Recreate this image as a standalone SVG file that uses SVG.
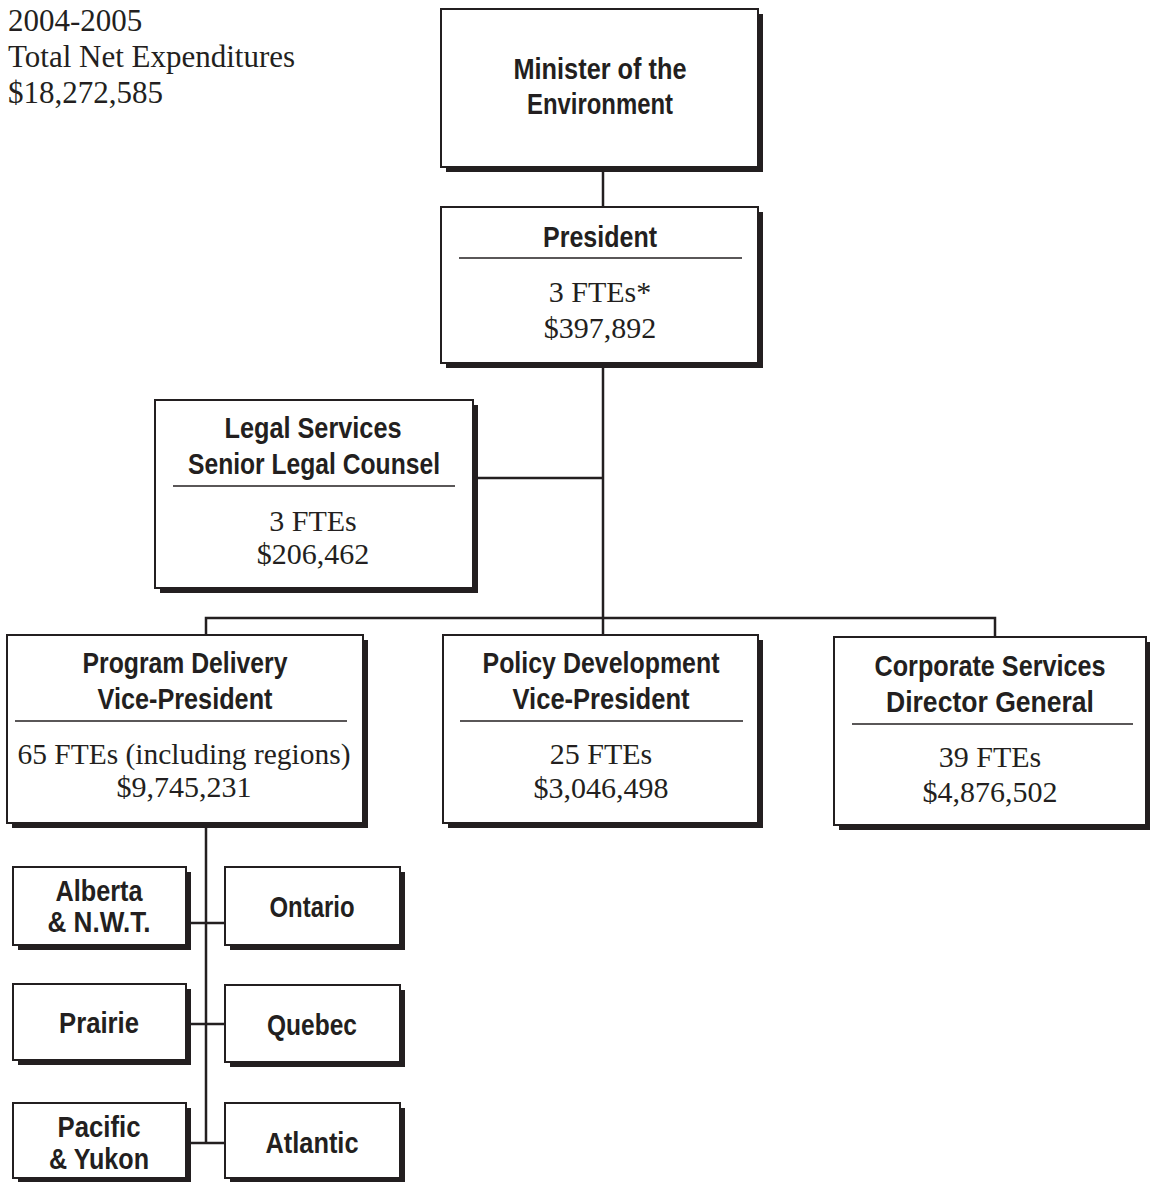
<svg xmlns="http://www.w3.org/2000/svg" width="1150" height="1182" viewBox="0 0 1150 1182">
<style>
.sh{fill:#231f20}
.bx{fill:#ffffff;stroke:#231f20;stroke-width:2}
.dv{stroke:#231f20;stroke-width:1.5}
.cn{stroke:#231f20;stroke-width:2.5;fill:none}
.t{font-family:"Liberation Sans",Arial,sans-serif;font-weight:bold;font-size:30px;fill:#231f20;text-anchor:middle}
.b{font-family:"Liberation Serif","Times New Roman",serif;font-size:30px;fill:#231f20;text-anchor:middle}
.h{font-family:"Liberation Serif","Times New Roman",serif;font-size:31px;fill:#231f20}
</style>
<rect width="1150" height="1182" fill="#ffffff"/>
<g id="header">
<text class="h" x="8" y="31">2004-2005</text>
<text class="h" x="8" y="67">Total Net Expenditures</text>
<text class="h" x="8" y="103">$18,272,585</text>
</g>
<g id="connectors">
<line class="cn" x1="603" y1="167" x2="603" y2="207"/>
<line class="cn" x1="603" y1="363" x2="603" y2="618"/>
<line class="cn" x1="473" y1="478" x2="603" y2="478"/>
<polyline class="cn" points="206,635 206,618 995,618 995,637"/>
<line class="cn" x1="603" y1="618" x2="603" y2="635"/>
<line class="cn" x1="206" y1="823" x2="206" y2="1143"/>
<line class="cn" x1="186" y1="923" x2="225" y2="923"/>
<line class="cn" x1="186" y1="1024" x2="225" y2="1024"/>
<line class="cn" x1="186" y1="1143" x2="225" y2="1143"/>
</g>
<g id="minister">
<rect class="sh" x="446" y="14" width="317" height="158"/>
<rect class="bx" x="441" y="9" width="317" height="158"/>
<text class="t" x="600" y="79" textLength="173" lengthAdjust="spacingAndGlyphs">Minister of the</text>
<text class="t" x="600" y="114" textLength="146" lengthAdjust="spacingAndGlyphs">Environment</text>
</g>
<g id="president">
<rect class="sh" x="446" y="212" width="317" height="156"/>
<rect class="bx" x="441" y="207" width="317" height="156"/>
<text class="t" x="600" y="247" textLength="114" lengthAdjust="spacingAndGlyphs">President</text>
<line class="dv" x1="459" y1="258" x2="742" y2="258"/>
<text class="b" x="600" y="302">3 FTEs*</text>
<text class="b" x="600" y="338">$397,892</text>
</g>
<g id="legal">
<rect class="sh" x="160" y="405" width="318" height="188"/>
<rect class="bx" x="155" y="400" width="318" height="188"/>
<text class="t" x="313" y="438" textLength="177" lengthAdjust="spacingAndGlyphs">Legal Services</text>
<text class="t" x="314" y="474" textLength="252" lengthAdjust="spacingAndGlyphs">Senior Legal Counsel</text>
<line class="dv" x1="173" y1="486" x2="455" y2="486"/>
<text class="b" x="313" y="531">3 FTEs</text>
<text class="b" x="313" y="564">$206,462</text>
</g>
<g id="program-delivery">
<rect class="sh" x="12" y="640" width="356" height="188"/>
<rect class="bx" x="7" y="635" width="356" height="188"/>
<text class="t" x="185" y="673" textLength="205" lengthAdjust="spacingAndGlyphs">Program Delivery</text>
<text class="t" x="185" y="709" textLength="175" lengthAdjust="spacingAndGlyphs">Vice-President</text>
<line class="dv" x1="15" y1="721" x2="347" y2="721"/>
<text class="b" x="184" y="764" textLength="333" lengthAdjust="spacingAndGlyphs">65 FTEs (including regions)</text>
<text class="b" x="184" y="797">$9,745,231</text>
</g>
<g id="policy-development">
<rect class="sh" x="448" y="640" width="315" height="188"/>
<rect class="bx" x="443" y="635" width="315" height="188"/>
<text class="t" x="601" y="673" textLength="237" lengthAdjust="spacingAndGlyphs">Policy Development</text>
<text class="t" x="601" y="709" textLength="177" lengthAdjust="spacingAndGlyphs">Vice-President</text>
<line class="dv" x1="460" y1="721" x2="743" y2="721"/>
<text class="b" x="601" y="764">25 FTEs</text>
<text class="b" x="601" y="798">$3,046,498</text>
</g>
<g id="corporate-services">
<rect class="sh" x="839" y="642" width="312" height="188"/>
<rect class="bx" x="834" y="637" width="312" height="188"/>
<text class="t" x="990" y="676" textLength="231" lengthAdjust="spacingAndGlyphs">Corporate Services</text>
<text class="t" x="990" y="712" textLength="208" lengthAdjust="spacingAndGlyphs">Director General</text>
<line class="dv" x1="852" y1="724" x2="1133" y2="724"/>
<text class="b" x="990" y="767">39 FTEs</text>
<text class="b" x="990" y="802">$4,876,502</text>
</g>
<g id="alberta">
<rect class="sh" x="18" y="872" width="173" height="78"/>
<rect class="bx" x="13" y="867" width="173" height="78"/>
<text class="t" x="99" y="901" textLength="87" lengthAdjust="spacingAndGlyphs">Alberta</text>
<text class="t" x="99" y="932" textLength="103" lengthAdjust="spacingAndGlyphs">&amp; N.W.T.</text>
</g>
<g id="ontario">
<rect class="sh" x="230" y="872" width="175" height="78"/>
<rect class="bx" x="225" y="867" width="175" height="78"/>
<text class="t" x="312" y="917" textLength="85" lengthAdjust="spacingAndGlyphs">Ontario</text>
</g>
<g id="prairie">
<rect class="sh" x="18" y="989" width="173" height="76"/>
<rect class="bx" x="13" y="984" width="173" height="76"/>
<text class="t" x="99" y="1033" textLength="80" lengthAdjust="spacingAndGlyphs">Prairie</text>
</g>
<g id="quebec">
<rect class="sh" x="230" y="990" width="175" height="77"/>
<rect class="bx" x="225" y="985" width="175" height="77"/>
<text class="t" x="312" y="1035" textLength="90" lengthAdjust="spacingAndGlyphs">Quebec</text>
</g>
<g id="pacific">
<rect class="sh" x="18" y="1108" width="173" height="75"/>
<rect class="bx" x="13" y="1103" width="173" height="75"/>
<text class="t" x="99" y="1137" textLength="83" lengthAdjust="spacingAndGlyphs">Pacific</text>
<text class="t" x="99" y="1169" textLength="100" lengthAdjust="spacingAndGlyphs">&amp; Yukon</text>
</g>
<g id="atlantic">
<rect class="sh" x="230" y="1108" width="175" height="75"/>
<rect class="bx" x="225" y="1103" width="175" height="75"/>
<text class="t" x="312" y="1153" textLength="93" lengthAdjust="spacingAndGlyphs">Atlantic</text>
</g>
</svg>
